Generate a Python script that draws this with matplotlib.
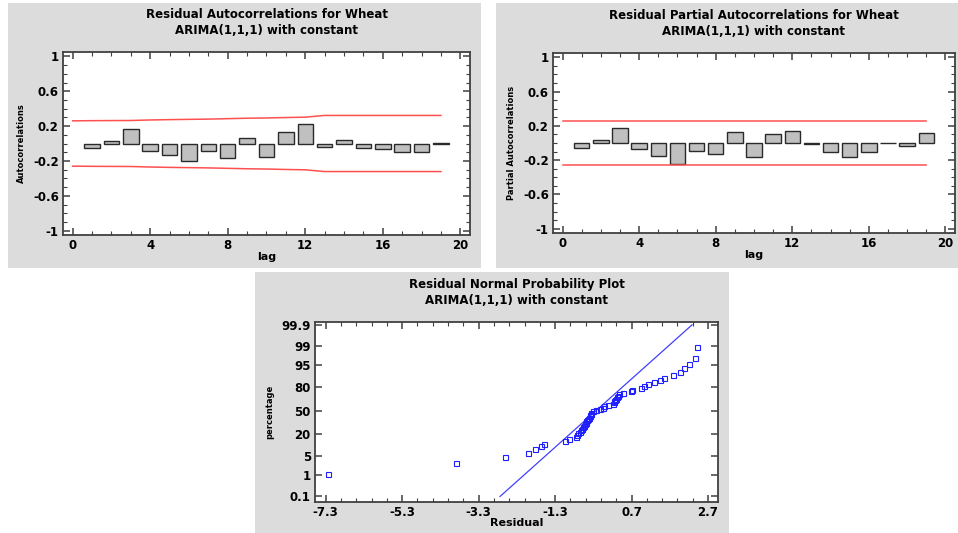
import numpy as np
import matplotlib
matplotlib.use("Agg")
import matplotlib.pyplot as plt
from matplotlib.patches import Rectangle
from matplotlib.ticker import FixedLocator, MultipleLocator
from statistics import NormalDist

plt.rcParams["axes.unicode_minus"] = False
plt.rcParams["font.family"] = "DejaVu Sans"

# residual autocorrelations
lags = list(range(1, 20))
acf = [-0.055, 0.03, 0.17, -0.085, -0.135, -0.205, -0.082, -0.166, 0.067, -0.15,
       0.131, 0.223, -0.036, 0.036, -0.048, -0.067, -0.097, -0.097, 0.005]
limit_lags = list(range(0, 20))
acf_limit = [0.26, 0.262, 0.263, 0.264, 0.27, 0.274, 0.277, 0.28, 0.285, 0.29,
             0.293, 0.298, 0.302, 0.322, 0.322, 0.322, 0.322, 0.322, 0.322, 0.322]

# residual partial autocorrelations
pacf = [-0.058, 0.035, 0.174, -0.066, -0.155, -0.248, -0.093, -0.128, 0.128, -0.167,
        0.10, 0.143, -0.015, -0.10, -0.167, -0.108, -0.003, -0.039, 0.112]
pacf_limit = [0.26] * 20

# normal probability plot
residuals = [-7.23, -3.88, -2.60, -2.00, -1.83, -1.67, -1.58, -1.05, -0.95, -0.75,
             -0.72, -0.69, -0.66, -0.63, -0.60, -0.58, -0.55, -0.52, -0.50, -0.48,
             -0.46, -0.44, -0.42, -0.40, -0.38, -0.37, -0.35, -0.30, -0.22, -0.12,
             -0.06, -0.02, 0.08, 0.22, 0.24, 0.25, 0.27, 0.29, 0.31, 0.35,
             0.38, 0.48, 0.68, 0.72, 0.95, 1.02, 1.12, 1.28, 1.45, 1.55,
             1.77, 1.96, 2.06, 2.19, 2.35, 2.40]
percent = [1.1, 2.9, 4.7, 6.4, 8.2, 10.0, 11.8, 13.6, 15.3, 17.1,
           18.9, 20.7, 22.4, 24.2, 26.0, 27.8, 29.6, 31.3, 33.1, 34.9,
           36.7, 38.4, 40.2, 42.0, 43.8, 45.6, 47.3, 49.1, 50.9, 52.7,
           54.4, 56.2, 58.0, 59.8, 61.6, 63.3, 65.1, 66.9, 68.7, 70.4,
           72.2, 74.0, 75.8, 77.6, 79.3, 81.1, 82.9, 84.7, 86.4, 88.2,
           90.0, 91.8, 93.6, 95.3, 97.1, 98.9]
fit_res = [-2.74, 2.28]
fit_pct = [0.1, 99.9]
prob_ticks = [0.1, 1, 5, 20, 50, 80, 95, 99, 99.9]
prob_labels = ["0.1", "1", "5", "20", "50", "80", "95", "99", "99.9"]
res_ticks = [-7.3, -5.3, -3.3, -1.3, 0.7, 2.7]

W, H = 958, 533
fig = plt.figure(figsize=(W / 100, H / 100), dpi=100)
fig.patch.set_facecolor("white")

panel_bg = "#dcdcdc"
for (x0, y0, x1, y1) in [(8, 3, 481, 268), (496, 3, 958, 268), (255, 272, 729, 533)]:
    fig.add_artist(Rectangle((x0 / W, 1 - y1 / H), (x1 - x0) / W, (y1 - y0) / H,
                             transform=fig.transFigure, facecolor=panel_bg,
                             edgecolor="none", zorder=-10))


def px_axes(l, t, r, b):
    return fig.add_axes([l / W, 1 - b / H, (r - l) / W, (b - t) / H])


def style(ax):
    for s in ax.spines.values():
        s.set_color("#404040")
        s.set_linewidth(1.3)
    ax.tick_params(which="both", direction="in", top=True, right=True,
                   colors="#404040", labelcolor="black")
    ax.tick_params(which="major", length=5, width=1.1, labelsize=8.5, pad=3)
    ax.tick_params(which="minor", length=3, width=0.8)
    for lab in ax.get_xticklabels() + ax.get_yticklabels():
        lab.set_fontweight("bold")


def corr_panel(ax, vals, lim, title, ylabel):
    ax.bar(lags, vals, width=0.8, color="#c0c0c0", edgecolor="#2a2a2a", linewidth=1.0)
    ax.plot(limit_lags, lim, color="#ff5050", lw=1.1)
    ax.plot(limit_lags, [-v for v in lim], color="#ff5050", lw=1.1)
    ax.set_xlim(-0.5, 20.5)
    ax.set_ylim(-1.05, 1.05)
    ax.set_xticks([0, 4, 8, 12, 16, 20])
    ax.xaxis.set_minor_locator(MultipleLocator(1))
    ax.set_yticks([-1, -0.6, -0.2, 0.2, 0.6, 1])
    ax.set_yticklabels(["-1", "-0.6", "-0.2", "0.2", "0.6", "1"])
    ax.yaxis.set_minor_locator(FixedLocator(np.round(np.arange(-1, 1.01, 0.1), 2)))
    ax.set_xlabel("lag", fontsize=8, fontweight="bold", labelpad=0)
    ax.set_ylabel(ylabel, fontsize=6, fontweight="bold", labelpad=5)
    ax.set_title(title, fontsize=8.5, fontweight="bold", pad=13, linespacing=1.25)
    style(ax)


ax1 = px_axes(63, 52, 470, 235)
corr_panel(ax1, acf, acf_limit,
           "Residual Autocorrelations for Wheat\nARIMA(1,1,1) with constant",
           "Autocorrelations")

ax2 = px_axes(553, 53, 955, 233)
corr_panel(ax2, pacf, pacf_limit,
           "Residual Partial Autocorrelations for Wheat\nARIMA(1,1,1) with constant",
           "Partial Autocorrelations")

nd = NormalDist()
_ppf = np.vectorize(nd.inv_cdf, otypes=[float])
_cdf = np.vectorize(nd.cdf, otypes=[float])


def fwd(p):
    p = np.clip(np.asarray(p, dtype=float) / 100.0, 1e-7, 1 - 1e-7)
    return _ppf(p)


def inv(z):
    return _cdf(np.asarray(z, dtype=float)) * 100.0


ax3 = px_axes(315, 322, 718, 502)
ax3.set_yscale("function", functions=(fwd, inv))
ax3.plot(fit_res, fit_pct, color="#4040ff", lw=0.9)
ax3.plot(residuals, percent, linestyle="none", marker="s", markersize=3.6,
         markerfacecolor="none", markeredgecolor="#2020ff", markeredgewidth=0.8)
ax3.set_xlim(-7.58, 2.96)
ax3.set_ylim(0.05, 99.93)
ax3.set_xticks(res_ticks)
ax3.set_xticklabels([str(v) for v in res_ticks])
ax3.xaxis.set_minor_locator(FixedLocator(np.round(np.arange(-7.3, 2.8, 0.4), 2)))
ax3.yaxis.set_major_locator(FixedLocator(prob_ticks))
ax3.yaxis.set_minor_locator(FixedLocator([]))
ax3.set_yticklabels(prob_labels)
ax3.set_xlabel("Residual", fontsize=8, fontweight="bold", labelpad=-1)
ax3.set_ylabel("percentage", fontsize=6, fontweight="bold", labelpad=5)
ax3.set_title("Residual Normal Probability Plot\nARIMA(1,1,1) with constant",
              fontsize=8.5, fontweight="bold", pad=13, linespacing=1.25)
style(ax3)

fig.savefig("out.png", dpi=100)
